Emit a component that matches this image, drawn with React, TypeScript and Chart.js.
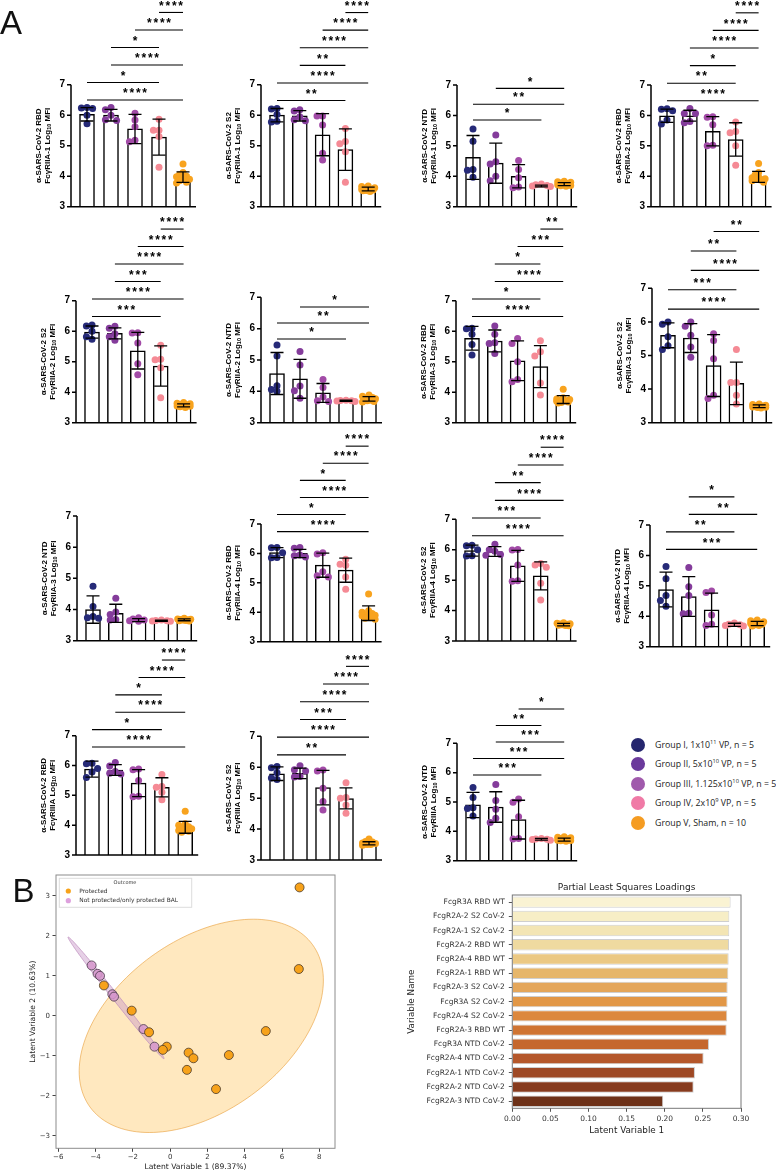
import React, { useEffect, useRef } from 'react';
import { Chart, registerables } from 'chart.js';

Chart.register(...registerables);

// ---------------- Panel A : data ----------------
const groupColors = ['#262a78', '#843c9b', '#a24ba7', '#f58a95', '#f8a31e'];
const legendColors = ['#25266e', '#6b3a9c', '#a05aac', '#f07aa6', '#f59c22'];
const legendPrefix = ['Group I, 1x10', 'Group II, 5x10', 'Group III, 1.125x10', 'Group IV, 2x10', 'Group V, Sham, n = 10'];
const legendExponent = ['11', '10', '10', '9', ''];
const legendSuffix = [' VP, n = 5', ' VP, n = 5', ' VP, n = 5', ' VP, n = 5', ''];

const panelAntigen = ['RBD', 'S2', 'NTD', 'RBD', 'S2', 'NTD', 'RBD', 'S2', 'NTD', 'RBD', 'S2', 'NTD', 'RBD', 'S2', 'NTD'];
const panelReceptor = ['FcγRIIA-1', 'FcγRIIA-1', 'FcγRIIA-1', 'FcγRIIA-2', 'FcγRIIA-2', 'FcγRIIA-2', 'FcγRIIA-3', 'FcγRIIA-3', 'FcγRIIA-3', 'FcγRIIA-4', 'FcγRIIA-4', 'FcγRIIA-4', 'FcγRIIIA', 'FcγRIIIA', 'FcγRIIIA'];
const yTickValues = [3, 4, 5, 6, 7];

const panelMeans = [
  [6.03, 6.0, 5.55, 5.28, 3.97],
  [6.0, 5.98, 5.36, 4.87, 3.58],
  [4.62, 4.43, 4.0, 3.68, 3.74],
  [5.99, 5.99, 5.48, 5.21, 3.98],
  [5.97, 5.93, 5.36, 4.86, 3.57],
  [4.57, 4.4, 3.95, 3.7, 3.76],
  [5.77, 5.68, 5.03, 4.84, 3.76],
  [5.6, 5.52, 4.7, 4.17, 3.49],
  [4.0, 3.88, 3.66, 3.64, 3.67],
  [6.03, 6.0, 5.6, 5.43, 3.97],
  [5.97, 5.94, 5.47, 5.14, 3.54],
  [4.88, 4.65, 4.21, 3.72, 3.76],
  [5.88, 5.85, 5.41, 5.27, 3.93],
  [5.79, 5.8, 5.34, 4.99, 3.54],
  [4.9, 4.83, 4.4, 3.73, 3.72],
];

const panelSds = [
  [0.22, 0.19, 0.48, 0.59, 0.17],
  [0.22, 0.17, 0.69, 0.68, 0.06],
  [0.72, 0.66, 0.38, 0.03, 0.05],
  [0.22, 0.18, 0.48, 0.55, 0.18],
  [0.2, 0.18, 0.6, 0.66, 0.05],
  [0.67, 0.62, 0.3, 0.02, 0.07],
  [0.39, 0.36, 0.65, 0.69, 0.13],
  [0.37, 0.43, 0.92, 0.63, 0.04],
  [0.44, 0.29, 0.05, 0.02, 0.03],
  [0.17, 0.14, 0.41, 0.41, 0.25],
  [0.18, 0.16, 0.51, 0.46, 0.04],
  [0.57, 0.65, 0.55, 0.05, 0.07],
  [0.27, 0.18, 0.45, 0.32, 0.2],
  [0.22, 0.17, 0.56, 0.34, 0.05],
  [0.43, 0.52, 0.66, 0.03, 0.05],
];

const panelPoints = [
  [[6.25, 6.24, 6.22, 6.0, 5.72], [6.25, 6.18, 6.0, 5.83, 5.85], [6.06, 5.84, 5.62, 5.18, 5.13], [5.87, 5.51, 5.51, 5.3, 4.29], [4.4, 4.12, 4.05, 4.0, 3.98, 3.95, 3.9, 3.85, 3.8, 3.78]],
  [[6.22, 6.2, 6.02, 5.8, 5.78], [6.18, 6.14, 5.95, 5.85, 5.82], [5.97, 5.97, 5.68, 4.75, 4.53], [5.56, 5.14, 5.06, 4.8, 3.8], [3.68, 3.66, 3.62, 3.6, 3.58, 3.56, 3.55, 3.53, 3.52, 3.5]],
  [[5.55, 5.15, 4.22, 4.2, 3.97], [5.36, 4.48, 4.4, 4.0, 3.85], [4.52, 4.22, 3.95, 3.65, 3.62], [3.75, 3.72, 3.7, 3.68, 3.66], [3.84, 3.82, 3.8, 3.78, 3.76, 3.74, 3.72, 3.7, 3.69, 3.67]],
  [[6.22, 6.2, 6.15, 5.85, 5.72], [6.23, 6.06, 6.06, 5.8, 5.76], [5.96, 5.94, 5.69, 5.02, 5.0], [5.78, 5.47, 5.43, 5.0, 4.36], [4.42, 4.12, 4.05, 3.98, 3.95, 3.92, 3.9, 3.88, 3.85, 3.8]],
  [[6.2, 6.17, 6.0, 5.82, 5.74], [6.16, 6.1, 5.92, 5.82, 5.7], [5.95, 5.94, 5.61, 4.93, 4.57], [5.54, 5.08, 5.06, 4.8, 3.82], [3.66, 3.64, 3.62, 3.6, 3.58, 3.56, 3.55, 3.54, 3.52, 3.5]],
  [[5.48, 5.13, 4.18, 4.06, 4.0], [5.27, 4.84, 4.17, 4.02, 3.78], [4.38, 4.12, 3.82, 3.7, 3.68], [3.72, 3.71, 3.7, 3.69, 3.68], [3.88, 3.84, 3.8, 3.78, 3.76, 3.74, 3.72, 3.7, 3.68, 3.66]],
  [[6.1, 6.08, 5.9, 5.56, 5.22], [6.17, 5.9, 5.62, 5.6, 5.27], [5.76, 5.6, 5.0, 4.42, 4.34], [5.69, 5.33, 5.19, 4.3, 3.91], [4.1, 3.82, 3.78, 3.76, 3.74, 3.72, 3.7, 3.68, 3.66, 3.65]],
  [[6.0, 5.93, 5.56, 5.29, 5.18], [6.0, 5.87, 5.6, 5.25, 4.95], [5.65, 5.45, 4.9, 3.82, 3.72], [5.18, 4.2, 4.2, 3.82, 3.56], [3.56, 3.54, 3.52, 3.5, 3.5, 3.48, 3.47, 3.46, 3.45, 3.44]],
  [[4.75, 4.1, 3.78, 3.74, 3.72], [4.36, 3.92, 3.84, 3.68, 3.66], [3.74, 3.7, 3.66, 3.64, 3.62], [3.66, 3.65, 3.64, 3.63, 3.62], [3.72, 3.7, 3.69, 3.68, 3.67, 3.66, 3.66, 3.65, 3.64, 3.63]],
  [[6.2, 6.19, 6.02, 5.86, 5.85], [6.2, 6.18, 5.95, 5.92, 5.88], [6.02, 5.98, 5.38, 5.2, 5.24], [5.8, 5.63, 5.6, 5.2, 4.78], [4.62, 4.05, 4.0, 3.96, 3.92, 3.9, 3.88, 3.85, 3.8, 3.76]],
  [[6.15, 6.13, 6.0, 5.8, 5.79], [6.18, 6.0, 5.95, 5.84, 5.82], [6.01, 5.99, 5.5, 4.98, 4.96], [5.55, 5.5, 5.42, 4.9, 4.35], [3.6, 3.58, 3.57, 3.56, 3.55, 3.54, 3.53, 3.52, 3.51, 3.5]],
  [[5.64, 5.23, 4.68, 4.52, 4.33], [5.6, 4.97, 4.68, 4.1, 4.08], [4.83, 4.78, 4.04, 3.7, 3.74], [3.78, 3.74, 3.72, 3.7, 3.68], [3.88, 3.85, 3.82, 3.8, 3.78, 3.76, 3.74, 3.72, 3.7, 3.68]],
  [[6.08, 6.06, 5.9, 5.78, 5.6], [6.1, 5.98, 5.8, 5.74, 5.72], [5.88, 5.86, 5.5, 4.97, 4.95], [5.7, 5.3, 5.27, 5.1, 4.85], [4.47, 4.05, 4.0, 3.95, 3.9, 3.88, 3.85, 3.82, 3.8, 3.76]],
  [[6.02, 5.98, 5.82, 5.65, 5.6], [6.05, 5.92, 5.88, 5.7, 5.68], [5.91, 5.88, 5.32, 4.89, 4.62], [5.5, 5.02, 5.0, 4.78, 4.51], [3.68, 3.6, 3.58, 3.56, 3.55, 3.53, 3.52, 3.5, 3.5, 3.48]],
  [[5.49, 5.15, 4.8, 4.78, 4.52], [5.6, 5.05, 4.75, 4.45, 4.3], [5.1, 4.99, 4.5, 3.76, 3.74], [3.76, 3.74, 3.73, 3.72, 3.7], [3.82, 3.8, 3.78, 3.76, 3.74, 3.72, 3.7, 3.69, 3.68, 3.66]],
];

// significance brackets, listed from the lowest line upward: [group a, group b, label]
const panelBrackets: [number, number, string][][] = [
  [[1, 5, '****'], [1, 4, '*'], [2, 5, '****'], [2, 4, '*'], [3, 5, '****'], [4, 5, '****']],
  [[1, 4, '**'], [1, 5, '****'], [2, 4, '**'], [2, 5, '****'], [3, 5, '****'], [4, 5, '****']],
  [[1, 4, '*'], [1, 5, '**'], [2, 5, '*']],
  [[1, 5, '****'], [1, 4, '**'], [2, 4, '*'], [2, 5, '****'], [3, 5, '****'], [4, 5, '****']],
  [[1, 4, '***'], [1, 5, '****'], [2, 4, '***'], [2, 5, '****'], [3, 5, '****'], [4, 5, '****']],
  [[1, 4, '*'], [1, 5, '**'], [2, 5, '*']],
  [[1, 5, '****'], [1, 4, '*'], [2, 5, '****'], [2, 4, '*'], [3, 5, '***'], [4, 5, '**']],
  [[1, 5, '****'], [1, 4, '***'], [2, 5, '****'], [2, 4, '**'], [3, 5, '**']],
  [],
  [[1, 5, '****'], [1, 4, '*'], [2, 5, '****'], [2, 4, '*'], [3, 5, '****'], [4, 5, '****']],
  [[1, 5, '****'], [1, 4, '***'], [2, 5, '****'], [2, 4, '**'], [3, 5, '****'], [4, 5, '****']],
  [[1, 5, '***'], [1, 4, '**'], [2, 5, '**'], [2, 4, '*']],
  [[1, 5, '****'], [1, 4, '*'], [2, 5, '****'], [2, 4, '*'], [3, 5, '****'], [4, 5, '****']],
  [[1, 4, '**'], [1, 5, '****'], [2, 4, '***'], [2, 5, '****'], [3, 5, '****'], [4, 5, '****']],
  [[1, 4, '***'], [1, 5, '***'], [2, 5, '***'], [2, 4, '**'], [3, 5, '*']],
];
const bracketBase = [6.5, 6.48, 5.85, 6.48, 6.48, 5.67, 6.48, 6.38, 7, 6.74, 6.46, 6.2, 6.62, 6.4, 5.92];

// ---------------- Panel A : layout (page pixels) ----------------
const panelAxisX = [71, 261, 457, 651, 76, 261, 456, 652, 77, 261, 456, 650, 76, 261, 457];
const panelY7 = [84.7, 84.7, 85, 85, 300.7, 297.3, 300.7, 288.3, 516, 524, 519.3, 525, 735.7, 736.3, 743.3];
const panelY3 = [206.7, 206.7, 206.7, 206.7, 422.7, 422.7, 422.7, 422.7, 640.7, 641.7, 641, 646.7, 855, 860, 860.7];
const panelSpacing = [24, 22.8, 22.8, 22.9, 22.9, 23, 22.8, 22.8, 22.8, 22.9, 22.9, 22.8, 23.3, 23, 22.8];
const bracketStepPx = [17.5, 17.6, 15.8, 17.6, 17.5, 16, 17.5, 19.4, 17.5, 17.1, 17.7, 17.5, 17.4, 17.7, 16.5];

// ---------------- Panel B : PLS scores ----------------
const protectedX = [6.94, 6.9, -3.55, -2.06, -1.13, -0.18, -0.39, 0.99, 1.25, 0.9, 3.15, 5.13, 2.46];
const protectedY = [3.21, 1.17, 0.76, 0.13, -0.41, -0.77, -0.85, -0.92, -1.06, -1.35, -0.98, -0.38, -1.83];
const notProtectedX = [-4.21, -3.89, -3.76, -3.1, -3.01, -1.43, -0.84];
const notProtectedY = [1.26, 1.05, 1.0, 0.54, 0.48, -0.33, -0.77];
// confidence ellipses: [centre x, centre y, semi-axis a, semi-axis b, angle in degrees]
const protectedEllipse = [1.67, -0.25, 6.66, 2.37, 11.3];
const notProtectedEllipse = [-2.9, 0.45, 2.99, 0.11, -30.5];
const scoreXTicks = [-6, -4, -2, 0, 2, 4, 6, 8];
const scoreYTicks = [-3, -2, -1, 0, 1, 2, 3];

// ---------------- Panel B : PLS loadings ----------------
const plsVariables = [
  'FcgR3A RBD WT', 'FcgR2A-2 S2 CoV-2', 'FcgR2A-1 S2 CoV-2', 'FcgR2A-2 RBD WT', 'FcgR2A-4 RBD WT',
  'FcgR2A-1 RBD WT', 'FcgR2A-3 S2 CoV-2', 'FcgR3A S2 CoV-2', 'FcgR2A-4 S2 CoV-2', 'FcgR2A-3 RBD WT',
  'FcgR3A NTD CoV-2', 'FcgR2A-4 NTD CoV-2', 'FcgR2A-1 NTD CoV-2', 'FcgR2A-2 NTD CoV-2', 'FcgR2A-3 NTD CoV-2',
];
const plsLoadings = [0.2864, 0.2847, 0.2846, 0.2843, 0.2838, 0.2834, 0.2825, 0.2824, 0.282, 0.2812, 0.258, 0.251, 0.2396, 0.2379, 0.198];
const plsColors = [
  '#faf3d3', '#f7eec6', '#f3e5b4', '#efdaa0', '#ebc883', '#e6b66a', '#e4a65a', '#e29746',
  '#dc883e', '#cf7432', '#c5672d', '#b5572a', '#9e4824', '#873b1e', '#6d3118',
];
const plsTicks = [0, 0.05, 0.1, 0.15, 0.2, 0.25, 0.3];

const ARIAL = '"Liberation Sans", Arial, sans-serif';
const DEJAVU = '"DejaVu Sans", sans-serif';

function swarmOffsets(values: number[], pxPerY: number, pxPerX: number): number[] {
  const many = values.length > 6;
  const cands = many ? [0, -3.5, 3.5, -6.5, 6.5, -1.8, 1.8, -5, 5] : [0, -5.6, 5.6, -9, 9];
  const minD = many ? 4 : 5.5;
  const order = values.map((_, i) => i).sort((a, b) => values[b] - values[a]);
  const placed: { x: number; y: number }[] = [];
  const out = new Array(values.length).fill(0);
  for (const i of order) {
    const y = values[i] * pxPerY;
    let best = 0;
    let bestScore = -1;
    for (const c of cands) {
      let d = Infinity;
      for (const p of placed) d = Math.min(d, Math.hypot(p.x - c, p.y - y));
      if (d >= minD) { best = c; bestScore = Infinity; break; }
      if (d > bestScore) { bestScore = d; best = c; }
    }
    placed.push({ x: best, y });
    out[i] = best / pxPerX;
  }
  return out;
}

const AXIS_W = 52;
const TOP_EXTRA = 95;
const PAD_TOP = 10;

function BarPanel({ idx }: { idx: number }) {
  const ref = useRef<HTMLCanvasElement | null>(null);
  const ax = panelAxisX[idx];
  const y7 = panelY7[idx];
  const y3 = panelY3[idx];
  const sp = panelSpacing[idx];
  const areaW = 16 + 4 * sp + 13;
  const left = Math.round(ax - AXIS_W);
  const top = Math.round(y7 - TOP_EXTRA);
  const axW = ax - left;
  const W = Math.ceil(axW + areaW + 4);
  const H = Math.ceil(y3 - top + 8);
  const padR = W - axW - areaW;
  const padB = H - (y3 - top);

  useEffect(() => {
    const canvas = ref.current;
    if (!canvas) return;
    const ppu = (y3 - y7) / 4;
    const ymax = 3 + (y3 - top - PAD_TOP) / ppu;
    const xmin = 1 - 16 / sp;
    const xmax = xmin + areaW / sp;
    const means = panelMeans[idx];
    const sds = panelSds[idx];
    const pts = panelPoints[idx];
    const brackets = panelBrackets[idx];

    const overlay = {
      id: 'overlay' + idx,
      afterDatasetsDraw(chart: any) {
        const ctx = chart.ctx as CanvasRenderingContext2D;
        const xs = chart.scales.x;
        const ys = chart.scales.y;
        const L = chart.chartArea.left;
        const R = chart.chartArea.right;
        ctx.save();
        ctx.strokeStyle = '#000';
        ctx.fillStyle = '#000';
        // error bars
        ctx.lineWidth = 1.3;
        means.forEach((m, i) => {
          const px = xs.getPixelForValue(i + 1);
          const t = ys.getPixelForValue(m + sds[i]);
          const b = ys.getPixelForValue(Math.max(3, m - sds[i]));
          ctx.beginPath();
          ctx.moveTo(px, t); ctx.lineTo(px, b);
          ctx.moveTo(px - 6.5, t); ctx.lineTo(px + 6.5, t);
          ctx.moveTo(px - 6.5, b); ctx.lineTo(px + 6.5, b);
          ctx.stroke();
        });
        // axes
        const yb = ys.getPixelForValue(3);
        const yt = ys.getPixelForValue(7);
        ctx.lineWidth = 1.5;
        ctx.beginPath();
        ctx.moveTo(L, yt); ctx.lineTo(L, yb); ctx.lineTo(R, yb);
        yTickValues.forEach((v) => {
          const yy = ys.getPixelForValue(v);
          ctx.moveTo(L - 4, yy); ctx.lineTo(L, yy);
        });
        ctx.stroke();
        // brackets
        ctx.lineWidth = 1.1;
        ctx.font = `bold 12px ${ARIAL}`;
        ctx.textAlign = 'center';
        ctx.textBaseline = 'alphabetic';
        try { (ctx as any).letterSpacing = '1.8px'; } catch (e) { /* ignore */ }
        const base = ys.getPixelForValue(bracketBase[idx]);
        brackets.forEach(([a, b, label], k) => {
          const yy = base - k * bracketStepPx[idx];
          const xa = xs.getPixelForValue(a);
          const xb = xs.getPixelForValue(b);
          ctx.beginPath();
          ctx.moveTo(xa, yy); ctx.lineTo(xb, yy);
          ctx.stroke();
          ctx.fillText(label, (xa + xb) / 2 + 0.9, yy - 2.8);
        });
        try { (ctx as any).letterSpacing = '0px'; } catch (e) { /* ignore */ }
        // axis title (two rotated lines)
        ctx.translate(L - 27.5, (yb + yt) / 2);
        ctx.rotate(-Math.PI / 2);
        ctx.textBaseline = 'middle';
        const f = `bold 8px ${ARIAL}`;
        const fs = `bold 5.5px ${ARIAL}`;
        ctx.font = f;
        ctx.textAlign = 'center';
        ctx.fillText('α-SARS-CoV-2 ' + panelAntigen[idx], 0, -4.3);
        const s1 = panelReceptor[idx] + ' Log';
        const s2 = '10';
        const s3 = ' MFI';
        const w1 = ctx.measureText(s1).width;
        const w3 = ctx.measureText(s3).width;
        ctx.font = fs;
        const w2 = ctx.measureText(s2).width;
        let x = -(w1 + w2 + w3) / 2;
        ctx.textAlign = 'left';
        ctx.font = f; ctx.fillText(s1, x, 4.3); x += w1;
        ctx.font = fs; ctx.fillText(s2, x, 6.3); x += w2;
        ctx.font = f; ctx.fillText(s3, x, 4.3);
        ctx.restore();
      },
    };

    const pointSets = pts.map((vals, g) => {
      const offs = swarmOffsets(vals, ppu, sp);
      return {
        type: 'scatter' as const,
        data: vals.map((v, k) => ({ x: g + 1 + offs[k], y: v })),
        backgroundColor: groupColors[g],
        borderWidth: 0,
        pointRadius: 3.5,
        order: 1,
      };
    });

    const chart = new Chart(canvas, {
      type: 'bar',
      data: {
        datasets: [
          {
            type: 'bar',
            data: means.map((m, i) => ({ x: i + 1, y: m })),
            backgroundColor: '#ffffff',
            borderColor: '#000000',
            borderWidth: 1.5,
            barThickness: 15,
            order: 2,
          } as any,
          ...(pointSets as any[]),
        ],
      },
      options: {
        responsive: false,
        animation: false,
        events: [],
        layout: { padding: { left: 0, top: PAD_TOP, right: padR, bottom: padB } },
        plugins: { legend: { display: false }, tooltip: { enabled: false } },
        scales: {
          x: { type: 'linear', display: false, min: xmin, max: xmax, offset: false },
          y: {
            type: 'linear',
            min: 3,
            max: ymax,
            afterFit: (s: any) => { s.width = axW; },
            afterBuildTicks: (s: any) => { s.ticks = yTickValues.map((v) => ({ value: v })); },
            grid: { display: false, drawTicks: true, tickLength: 4 },
            border: { display: false },
            ticks: { font: { family: ARIAL, size: 10, weight: 'bold' }, color: '#000', padding: 2 },
          },
        },
      } as any,
      plugins: [overlay],
    });
    return () => chart.destroy();
  }, []);

  return (
    <canvas
      ref={ref}
      width={W}
      height={H}
      style={{ position: 'absolute', left, top, width: W, height: H }}
    />
  );
}

function GroupLegend() {
  return (
    <>
      {legendPrefix.map((p, i) => (
        <div
          key={i}
          style={{
            position: 'absolute', left: 630.7, top: 744.5 + i * 19.5 - 7, height: 14,
            display: 'flex', alignItems: 'center', whiteSpace: 'nowrap',
            font: '8.8px "Open Sans", sans-serif', color: '#222',
          }}
        >
          <span style={{ display: 'inline-block', width: 14, height: 14, borderRadius: '50%', background: legendColors[i] }} />
          <span style={{ marginLeft: 10.3 }}>
            {p}
            {legendExponent[i] ? (
              <sup style={{ fontSize: '0.65em', lineHeight: 0, verticalAlign: 'super' }}>{legendExponent[i]}</sup>
            ) : null}
            {legendSuffix[i]}
          </span>
        </div>
      ))}
    </>
  );
}

function drawEllipse(chart: any, params: number[], fill: string, stroke: string) {
  const [cx, cy, a, b, angDeg] = params;
  const th = (angDeg * Math.PI) / 180;
  const xs = chart.scales.x;
  const ys = chart.scales.y;
  const ctx = chart.ctx as CanvasRenderingContext2D;
  ctx.beginPath();
  for (let k = 0; k <= 160; k++) {
    const t = (k / 160) * 2 * Math.PI;
    const dx = a * Math.cos(t);
    const dy = b * Math.sin(t);
    const x = cx + dx * Math.cos(th) - dy * Math.sin(th);
    const y = cy + dx * Math.sin(th) + dy * Math.cos(th);
    const px = xs.getPixelForValue(x);
    const py = ys.getPixelForValue(y);
    if (k === 0) ctx.moveTo(px, py); else ctx.lineTo(px, py);
  }
  ctx.closePath();
  ctx.fillStyle = fill;
  ctx.fill();
  ctx.strokeStyle = stroke;
  ctx.lineWidth = 1;
  ctx.stroke();
}

function ScorePanel() {
  const ref = useRef<HTMLCanvasElement | null>(null);
  const left = 0, top = 868, W = 345, H = 304;
  useEffect(() => {
    const canvas = ref.current;
    if (!canvas) return;
    const overlay = {
      id: 'scoreOverlay',
      beforeDatasetsDraw(chart: any) {
        const ctx = chart.ctx as CanvasRenderingContext2D;
        ctx.save();
        drawEllipse(chart, protectedEllipse, 'rgba(255,165,0,0.25)', 'rgba(230,150,40,0.55)');
        drawEllipse(chart, notProtectedEllipse, 'rgba(200,150,200,0.45)', 'rgba(190,140,190,0.7)');
        ctx.restore();
      },
      afterDatasetsDraw(chart: any) {
        const ctx = chart.ctx as CanvasRenderingContext2D;
        const a = chart.chartArea;
        ctx.save();
        ctx.strokeStyle = '#8c8c8c';
        ctx.lineWidth = 1;
        ctx.strokeRect(a.left, a.top, a.right - a.left, a.bottom - a.top);
        // legend
        const lx = a.left + 3.3, ly = a.top + 3.3;
        ctx.fillStyle = 'rgba(255,255,255,0.85)';
        ctx.strokeStyle = '#dddddd';
        ctx.fillRect(lx, ly, 132.4, 29);
        ctx.strokeRect(lx, ly, 132.4, 29);
        ctx.fillStyle = '#333';
        ctx.textBaseline = 'middle';
        ctx.textAlign = 'center';
        ctx.font = `5px ${DEJAVU}`;
        ctx.fillText('Outcome', 125, ly + 4.6);
        ctx.textAlign = 'left';
        ctx.font = `5.9px ${DEJAVU}`;
        const items: [string, string][] = [['Protected', '#f7a21a'], ['Not protected/only protected BAL', '#dda0dd']];
        items.forEach(([txt, col], i) => {
          const yy = ly + 12.7 + i * 9.7;
          ctx.beginPath();
          ctx.arc(68.3, yy, 2.6, 0, Math.PI * 2);
          ctx.fillStyle = col;
          ctx.fill();
          ctx.fillStyle = '#333';
          ctx.fillText(txt, 79.3, yy);
        });
        // axis titles
        ctx.fillStyle = '#222';
        ctx.font = `7.6px ${DEJAVU}`;
        ctx.textAlign = 'center';
        ctx.fillText('Latent Variable 1 (89.37%)', (a.left + a.right) / 2, 1167 - top);
        ctx.translate(33, (a.top + a.bottom) / 2);
        ctx.rotate(-Math.PI / 2);
        ctx.fillText('Latent Variable 2 (10.63%)', 0, 0);
        ctx.restore();
      },
    };
    const tickFont = { family: DEJAVU, size: 7 };
    const fmt = (v: number) => (v < 0 ? '\u2212' + Math.abs(v) : String(v));
    const chart = new Chart(canvas, {
      type: 'scatter',
      data: {
        datasets: [
          {
            data: protectedX.map((x, i) => ({ x, y: protectedY[i] })),
            backgroundColor: '#f7a21a',
            borderColor: '#4a3a2a',
            borderWidth: 0.8,
            pointRadius: 4.5,
          },
          {
            data: notProtectedX.map((x, i) => ({ x, y: notProtectedY[i] })),
            backgroundColor: 'rgba(214,150,205,0.85)',
            borderColor: '#4a3a4a',
            borderWidth: 0.8,
            pointRadius: 4.5,
          },
        ],
      },
      options: {
        responsive: false,
        animation: false,
        events: [],
        layout: { padding: { left: 0, top: 875 - top, right: W - (335 - left), bottom: 0 } },
        plugins: { legend: { display: false }, tooltip: { enabled: false } },
        scales: {
          x: {
            type: 'linear', min: -6.12, max: 8.84,
            afterBuildTicks: (s: any) => { s.ticks = scoreXTicks.map((v) => ({ value: v })); },
            afterFit: (s: any) => { s.height = H - (1148.3 - top); },
            grid: { display: true, drawOnChartArea: false, drawTicks: true, tickLength: 3.5, color: '#444' },
            border: { display: false },
            ticks: { font: tickFont, color: '#333', padding: 1.5, callback: (v: any) => fmt(Number(v)), maxRotation: 0 },
          },
          y: {
            type: 'linear', min: -3.31, max: 3.52,
            afterBuildTicks: (s: any) => { s.ticks = scoreYTicks.map((v) => ({ value: v })); },
            afterFit: (s: any) => { s.width = 56; },
            grid: { display: true, drawOnChartArea: false, drawTicks: true, tickLength: 3.5, color: '#444' },
            border: { display: false },
            ticks: { font: tickFont, color: '#333', padding: 2.5, callback: (v: any) => fmt(Number(v)) },
          },
        },
      } as any,
      plugins: [overlay],
    });
    return () => chart.destroy();
  }, []);
  return <canvas ref={ref} width={W} height={H} style={{ position: 'absolute', left, top, width: W, height: H }} />;
}

function LoadingsPanel() {
  const ref = useRef<HTMLCanvasElement | null>(null);
  const left = 390, top = 878, W = 386, H = 294;
  useEffect(() => {
    const canvas = ref.current;
    if (!canvas) return;
    const overlay = {
      id: 'plsOverlay',
      afterDatasetsDraw(chart: any) {
        const ctx = chart.ctx as CanvasRenderingContext2D;
        const a = chart.chartArea;
        ctx.save();
        ctx.strokeStyle = '#777';
        ctx.lineWidth = 1;
        ctx.strokeRect(a.left, a.top, a.right - a.left, a.bottom - a.top);
        ctx.fillStyle = '#222';
        ctx.textAlign = 'center';
        ctx.textBaseline = 'middle';
        ctx.font = `9px ${DEJAVU}`;
        ctx.fillText('Partial Least Squares Loadings', (a.left + a.right) / 2, 888 - top);
        ctx.font = `8.8px ${DEJAVU}`;
        ctx.fillText('Latent Variable 1', (a.left + a.right) / 2, 1131 - top);
        ctx.translate(411.7 - left, (a.top + a.bottom) / 2);
        ctx.rotate(-Math.PI / 2);
        ctx.fillText('Variable Name', 0, 0);
        ctx.restore();
      },
    };
    const chart = new Chart(canvas, {
      type: 'bar',
      data: {
        labels: plsVariables,
        datasets: [
          {
            data: plsLoadings,
            backgroundColor: plsColors,
            borderColor: '#cfcfcf',
            borderWidth: 1,
            barPercentage: 0.8,
            categoryPercentage: 1,
          },
        ],
      },
      options: {
        indexAxis: 'y',
        responsive: false,
        animation: false,
        events: [],
        layout: { padding: { left: 0, top: 895 - top, right: W - (741 - left), bottom: 0 } },
        plugins: { legend: { display: false }, tooltip: { enabled: false } },
        scales: {
          x: {
            type: 'linear', min: 0, max: 0.3,
            afterBuildTicks: (s: any) => { s.ticks = plsTicks.map((v) => ({ value: v })); },
            afterFit: (s: any) => { s.height = H - (1108.3 - top); },
            grid: { display: true, drawOnChartArea: false, drawTicks: true, tickLength: 3.5, color: '#555' },
            border: { display: false },
            ticks: { font: { family: DEJAVU, size: 7.5 }, color: '#333', padding: 2.5, maxRotation: 0, callback: (v: any) => Number(v).toFixed(2) },
          },
          y: {
            type: 'category',
            afterFit: (s: any) => { s.width = 512.3 - left; },
            grid: { display: true, drawOnChartArea: false, drawTicks: true, tickLength: 3.5, color: '#555', offset: false },
            border: { display: false },
            ticks: { font: { family: DEJAVU, size: 7.5 }, color: '#333', padding: 4, autoSkip: false },
          },
        },
      } as any,
      plugins: [overlay],
    });
    return () => chart.destroy();
  }, []);
  return <canvas ref={ref} width={W} height={H} style={{ position: 'absolute', left, top, width: W, height: H }} />;
}

export default function App() {
  return (
    <div style={{ position: 'absolute', left: 0, top: 0, width: 776, height: 1172, background: '#fff', overflow: 'hidden' }}>
      {panelMeans.map((_, i) => (
        <BarPanel key={i} idx={i} />
      ))}
      <GroupLegend />
      <ScorePanel />
      <LoadingsPanel />
      <div style={{ position: 'absolute', left: 0, top: 5.7, font: `33px ${ARIAL}`, lineHeight: '33px', color: '#111' }}>A</div>
      <div style={{ position: 'absolute', left: 12.5, top: 873.7, font: `33px ${ARIAL}`, lineHeight: '33px', color: '#111' }}>B</div>
    </div>
  );
}
